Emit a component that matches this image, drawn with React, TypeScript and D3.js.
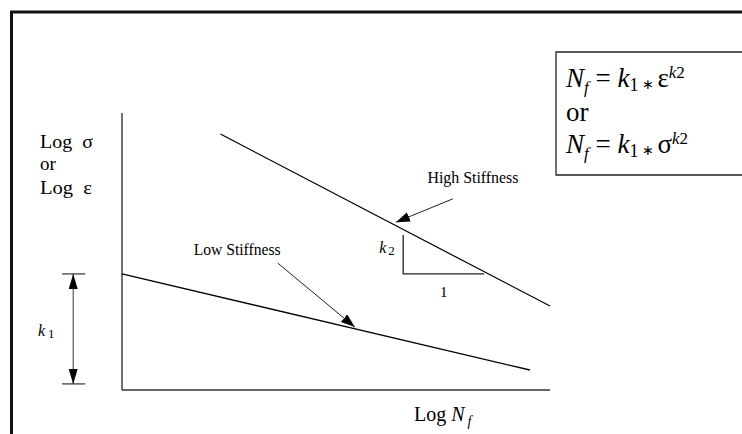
import React from "react";
import * as d3 from "d3";

// Fatigue lines in log–log space (Log N_f on x, Log σ / Log ε on y), 0–100 units
const highStiffnessX = [23, 100];
const highStiffnessY = [92.4, 30.3];
const lowStiffnessX = [0, 95.3];
const lowStiffnessY = [41.9, 7.2];

// Slope triangle (k2 over 1) under the high-stiffness line
const slopeTriX = [65.7, 65.7, 84.6];
const slopeTriY = [56, 41.9, 41.9];

// Intercept dimension k1 (from origin level to low-stiffness intercept)
const k1X = -11.4;
const k1Tick = [-14, -8.6];
const k1Y = [41.9, 2.2];

// Callout labels and leader arrows
const calloutNames = ["High Stiffness", "Low Stiffness"];
const calloutText = [
  [82, 74.7],
  [26.9, 48.7],
];
const calloutWidth = [91, 87];
const calloutArrow = [
  [77.3, 69, 64.0, 60.6],
  [36.4, 45.8, 54.4, 22.7],
];

const W = 742;
const H = 434;

export default function App() {
  const x = d3.scaleLinear().domain([0, 100]).range([122, 550]);
  const y = d3.scaleLinear().domain([0, 100]).range([390, 113]);
  const line = d3
    .line<[number, number]>()
    .x((d) => x(d[0]))
    .y((d) => y(d[1]));

  const high = line(highStiffnessX.map((v, i) => [v, highStiffnessY[i]]) as [number, number][]);
  const low = line(lowStiffnessX.map((v, i) => [v, lowStiffnessY[i]]) as [number, number][]);
  const tri = line(slopeTriX.map((v, i) => [v, slopeTriY[i]]) as [number, number][]);

  const serif = "'Liberation Serif', 'Times New Roman', serif";

  return (
    <svg
      width={W}
      height={H}
      viewBox={`0 0 ${W} ${H}`}
      style={{ position: "absolute", left: 0, top: 0, background: "#fff" }}
      fontFamily={serif}
    >
      <defs>
        <marker
          id="head"
          markerUnits="userSpaceOnUse"
          markerWidth={16}
          markerHeight={12}
          refX={14}
          refY={5}
          orient="auto"
        >
          <path d="M0,0 L14,5 L0,10 Z" fill="#000" />
        </marker>
        <marker
          id="dim"
          markerUnits="userSpaceOnUse"
          markerWidth={16}
          markerHeight={12}
          refX={15}
          refY={4.5}
          orient="auto-start-reverse"
        >
          <path d="M0,0 L15,4.5 L0,9 Z" fill="#000" />
        </marker>
      </defs>

      {/* frame */}
      <path d={`M11.5,${H} L11.5,12 L${W},12`} fill="none" stroke="#111" strokeWidth={3} />

      {/* formula box */}
      <path d={`M${W},52 L556,52 L556,175 L${W},175`} fill="none" stroke="#222" strokeWidth={1.3} />
      <g fontSize={27} fill="#000">
        <text x={566} y={87}>
          <tspan fontStyle="italic">N</tspan>
          <tspan fontStyle="italic" fontSize={17} dy={6}>f</tspan>
          <tspan dy={-6}> = </tspan>
          <tspan fontStyle="italic">k</tspan>
          <tspan fontSize={18} dy={4}>1</tspan>
          <tspan fontSize={14} dy={-2}> ∗ </tspan>
          <tspan dy={-2}>ε</tspan>
          <tspan fontStyle="italic" fontSize={17} dy={-9}>k</tspan>
          <tspan fontSize={17}>2</tspan>
        </text>
        <text x={566} y={121}>or</text>
        <text x={566} y={153}>
          <tspan fontStyle="italic">N</tspan>
          <tspan fontStyle="italic" fontSize={17} dy={6}>f</tspan>
          <tspan dy={-6}> = </tspan>
          <tspan fontStyle="italic">k</tspan>
          <tspan fontSize={18} dy={4}>1</tspan>
          <tspan fontSize={14} dy={-2}> ∗ </tspan>
          <tspan dy={-2}>σ</tspan>
          <tspan fontStyle="italic" fontSize={17} dy={-9}>k</tspan>
          <tspan fontSize={17}>2</tspan>
        </text>
      </g>

      {/* axes */}
      <line x1={x(0)} x2={x(0)} y1={y(100)} y2={y(0)} stroke="#333" strokeWidth={1.4} />
      <line x1={x(0)} x2={x(100)} y1={y(0)} y2={y(0)} stroke="#333" strokeWidth={1.4} />

      {/* axis titles */}
      <g fontSize={19} fill="#000">
        <text x={40} y={148} xmlSpace="preserve" textLength={53} lengthAdjust="spacingAndGlyphs">Log  σ</text>
        <text x={40} y={170}>or</text>
        <text x={40} y={194} xmlSpace="preserve" textLength={52} lengthAdjust="spacingAndGlyphs">Log  ε</text>
        <text x={414} y={421} fontSize={20}>
          <tspan>Log </tspan>
          <tspan fontStyle="italic">N</tspan>
          <tspan fontStyle="italic" fontSize={14} dx={3} dy={5}>f</tspan>
        </text>
      </g>

      {/* fatigue lines */}
      <path d={high ?? ""} fill="none" stroke="#000" strokeWidth={1.2} />
      <path d={low ?? ""} fill="none" stroke="#000" strokeWidth={1.4} />

      {/* slope triangle */}
      <path d={tri ?? ""} fill="none" stroke="#222" strokeWidth={1.3} />
      <text x={x(slopeTriX[0]) - 24} y={253} fontSize={16}>
        <tspan fontStyle="italic">k</tspan>
        <tspan fontSize={13} dx={2} dy={2}>2</tspan>
      </text>
      <text x={(x(slopeTriX[1]) + x(slopeTriX[2])) / 2} y={297} fontSize={15} textAnchor="middle">1</text>

      {/* k1 dimension */}
      <line x1={x(k1Tick[0])} x2={x(k1Tick[1])} y1={y(k1Y[0])} y2={y(k1Y[0])} stroke="#333" strokeWidth={1.2} />
      <line x1={x(k1Tick[0])} x2={x(k1Tick[1])} y1={y(k1Y[1])} y2={y(k1Y[1])} stroke="#333" strokeWidth={1.2} />
      <line
        x1={x(k1X)}
        x2={x(k1X)}
        y1={y(k1Y[0])}
        y2={y(k1Y[1])}
        stroke="#333"
        strokeWidth={1}
        markerStart="url(#dim)"
        markerEnd="url(#dim)"
      />
      <text x={38} y={336} fontSize={16}>
        <tspan fontStyle="italic">k</tspan>
        <tspan fontSize={13} dx={3} dy={2}>1</tspan>
      </text>

      {/* callouts */}
      {calloutNames.map((name, i) => (
        <g key={name}>
          <text
            x={x(calloutText[i][0]) - calloutWidth[i] / 2}
            y={y(calloutText[i][1])}
            fontSize={16}
            textLength={calloutWidth[i]}
            lengthAdjust="spacingAndGlyphs"
          >
            {name}
          </text>
          <line
            x1={x(calloutArrow[i][0])}
            y1={y(calloutArrow[i][1])}
            x2={x(calloutArrow[i][2])}
            y2={y(calloutArrow[i][3])}
            stroke="#222"
            strokeWidth={1}
            markerEnd="url(#head)"
          />
        </g>
      ))}
    </svg>
  );
}
